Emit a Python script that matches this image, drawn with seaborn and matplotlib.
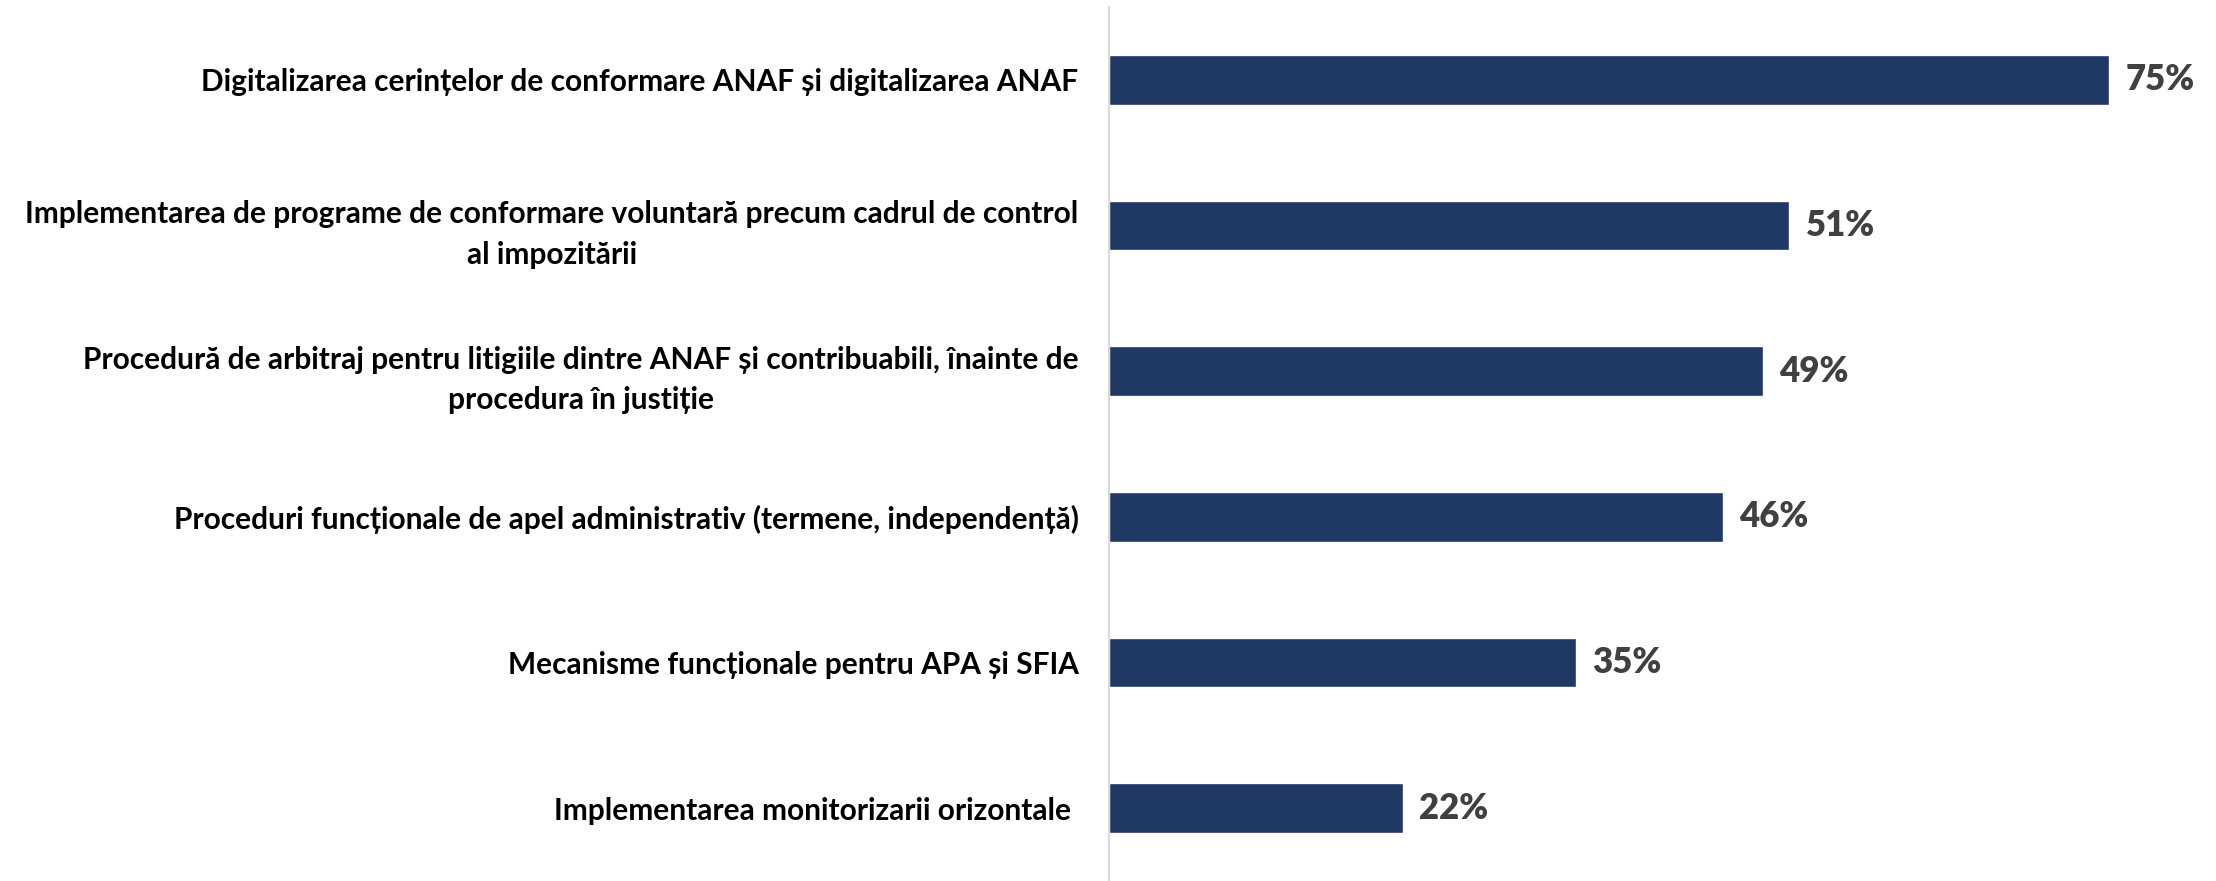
import matplotlib
matplotlib.use("Agg")
import matplotlib.pyplot as plt
import seaborn as sns
import pandas as pd

categories = [
    "Digitalizarea cerințelor de conformare ANAF și digitalizarea ANAF",
    "Implementarea de programe de conformare voluntară precum cadrul de control\nal impozitării",
    "Procedură de arbitraj pentru litigiile dintre ANAF și contribuabili, înainte de\nprocedura în justiție",
    "Proceduri funcționale de apel administrativ (termene, independență)",
    "Mecanisme funcționale pentru APA și SFIA",
    "Implementarea monitorizarii orizontale ",
]
values = [75, 51, 49, 46, 35, 22]

sns.set_theme(style="white")
plt.rcParams['font.family'] = ['Lato', 'DejaVu Sans']

df = pd.DataFrame({'category': categories, 'value': values})

fig = plt.figure(figsize=(22.16, 8.81), dpi=100)
ax = fig.add_axes([0.5005, 0.0, 0.4995, 0.992])
sns.barplot(x='value', y='category', data=df, color='#203864', width=0.34,
            saturation=1, ax=ax, orient='h')

for p in ax.patches:
    w = p.get_width()
    ax.annotate(f'{w:.0f}%', (w, p.get_y() + p.get_height() / 2.),
                ha='left', va='center', xytext=(12, 0), textcoords='offset points',
                fontsize=25, fontweight='heavy', color='#404040')

ax.set_xlim(0, 83)
ax.set_ylim(5.5, -0.5)
ax.set_xlabel('')
ax.set_ylabel('')
ax.set_xticks([])
for s in ['top', 'right', 'bottom']:
    ax.spines[s].set_visible(False)
ax.spines['left'].set_color('#d9d9d9')
ax.spines['left'].set_linewidth(1.5)
ax.tick_params(axis='y', length=0, pad=22)
for t in ax.get_yticklabels():
    t.set_fontsize(21.5)
    t.set_fontweight('bold')
    t.set_color('black')
    t.set_multialignment('center')
    t.set_linespacing(1.55)

fig.savefig('out.png', dpi=100)
